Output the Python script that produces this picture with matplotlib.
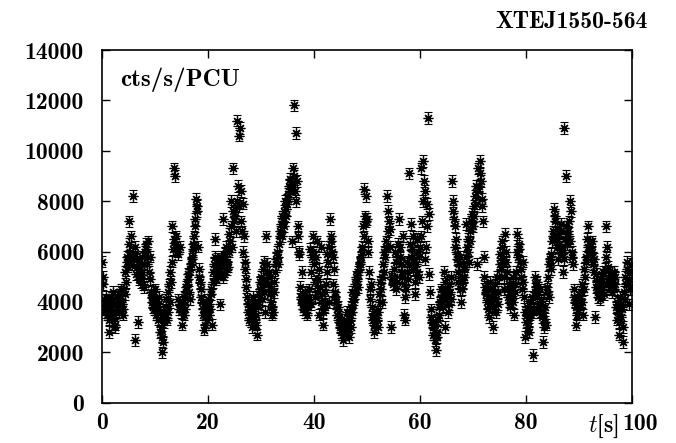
import numpy as np
import matplotlib
matplotlib.use("Agg")
import matplotlib.pyplot as plt

# count rate, units of 100 cts/s/PCU.
# rate_a: samples at t = 0, 0.25, 0.5, ...   rate_b: samples at t = 0.125, 0.375, ...
rate_a = [
    56, 47, 38, 42, 35, 28, 40, 37, 44, 34, 30, 38, 41, 36, 45, 39,
    37, 43, 48, 56, 72, 60, 66, 82, 58, 25, 54, 32, 56, 50, 52, 47,
    46, 61, 55, 64, 58, 44, 40, 37, 45, 35, 39, 42, 28, 20, 24, 34,
    38, 33, 44, 40, 48, 70, 93, 90, 66, 59, 37, 62, 31, 40, 35, 44,
    47, 51, 41, 55, 58, 63, 73, 81, 78, 53, 48, 42, 37, 29, 39, 33,
    41, 35, 45, 31, 52, 65, 49, 57, 55, 39, 58, 73, 51, 59, 56, 54,
    67, 80, 62, 93,
    77, 68, 112, 106, 109, 84, 79, 66, 53, 46, 39, 33, 36, 30, 42, 34,
    31, 27, 38, 45, 50, 41, 56, 36, 66, 47, 52, 43, 35, 36, 48, 57,
    60, 55, 66, 71, 74, 70, 80, 77, 83, 86, 89, 64, 93, 118, 107, 88,
    66, 59, 41, 52, 37, 44, 40, 35, 45, 61, 39, 66, 55, 42, 64, 49,
    35, 62, 43, 31, 38, 47, 59, 40, 73, 64, 58, 53, 44, 35, 38, 34,
    28, 31, 25, 27, 30, 36, 26, 33, 38, 44, 41, 47, 50, 46, 53, 56,
    62, 70, 85, 82,
    73, 64, 41, 47, 34, 28, 32, 36, 30, 43, 48, 40, 55, 60, 64, 82,
    76, 69, 30, 49, 53, 60, 45, 63, 73, 58, 50, 66, 35, 33, 56, 49,
    91, 71, 61, 66, 43, 55, 65, 50, 62, 93, 96, 88, 57, 79, 113, 51,
    37, 32, 27, 29, 21, 26, 35, 40, 45, 38, 52, 30, 43, 36, 47, 41,
    88, 80, 70, 65, 57, 48, 58, 40, 45, 50, 54, 71, 60, 56, 64, 75,
    70, 78, 86, 55, 93, 96, 88, 78, 58, 46, 43, 37, 34, 48, 41, 30,
    44, 36, 50, 39,
    59, 53, 64, 45, 67, 60, 42, 47, 38, 43, 50, 35, 47, 67, 58, 61,
    53, 45, 56, 26, 32, 38, 28, 35, 40, 19, 37, 50, 48, 44, 36, 41,
    34, 24, 32, 31, 46, 42, 57, 53, 68, 77, 74, 62, 57, 66, 71, 59,
    52, 109, 90, 63, 67, 80, 76, 60, 45, 40, 31, 36, 43, 39, 47, 35,
    53, 56, 65, 70, 62, 59, 64, 57, 34, 51, 44, 48, 41, 46, 52, 43,
    70, 62, 49, 45, 50, 44, 52, 47, 38, 33, 27, 42, 34, 24, 44, 50,
    56, 47, 39, 52,
]
rate_b = [
    50, 41, 36, 39, 37, 33, 42, 35, 39, 31, 36, 42, 38, 44, 40, 35,
    45, 52, 58, 54, 63, 57, 55, 59, 62, 51, 57, 49, 53, 48, 58, 55,
    60, 63, 58, 52, 49, 42, 38, 44, 40, 37, 33, 36, 30, 26, 32, 37,
    41, 36, 47, 52, 56, 61, 65, 63, 60, 41, 39, 36, 38, 42, 37, 46,
    49, 44, 53, 57, 61, 66, 70, 76, 62, 50, 45, 40, 35, 31, 36, 38,
    39, 37, 43, 48, 55, 58, 53, 50, 52, 56, 54, 50, 57, 62, 53, 60,
    64, 70, 76, 72,
    74, 80, 86, 78, 72, 68, 60, 56, 49, 42, 36, 38, 33, 37, 40, 32,
    35, 40, 43, 48, 46, 53, 44, 49, 55, 50, 45, 40, 38, 44, 52, 55,
    58, 63, 68, 66, 72, 76, 74, 79, 81, 84, 87, 85, 90, 84, 80, 70,
    60, 46, 42, 39, 40, 36, 42, 38, 42, 52, 58, 60, 48, 58, 44, 53,
    46, 40, 36, 39, 44, 52, 56, 62, 66, 60, 47, 42, 40, 37, 32, 30,
    33, 29, 27, 31, 28, 32, 35, 30, 36, 40, 43, 45, 49, 52, 55, 58,
    60, 66, 74, 72,
    60, 52, 45, 38, 33, 31, 35, 33, 36, 40, 45, 50, 52, 58, 62, 68,
    72, 62, 50, 47, 50, 56, 48, 58, 62, 55, 52, 47, 42, 45, 52, 55,
    63, 58, 53, 57, 48, 52, 60, 58, 66, 72, 80, 84, 62, 70, 75, 44,
    34, 30, 31, 25, 28, 33, 38, 42, 40, 44, 48, 41, 45, 39, 44, 50,
    76, 73, 62, 59, 52, 55, 45, 50, 48, 53, 58, 62, 65, 68, 72, 70,
    74, 82, 79, 84, 86, 91, 81, 72, 50, 44, 40, 45, 38, 42, 45, 37,
    47, 41, 44, 50,
    55, 62, 57, 50, 56, 52, 45, 40, 42, 46, 40, 44, 52, 60, 63, 56,
    50, 48, 42, 36, 35, 30, 34, 37, 42, 36, 44, 46, 42, 38, 45, 39,
    36, 30, 38, 44, 50, 55, 59, 64, 66, 72, 65, 69, 63, 68, 62, 60,
    57, 65, 70, 68, 72, 64, 58, 55, 42, 38, 35, 41, 38, 44, 40, 45,
    50, 58, 62, 60, 64, 60, 55, 52, 46, 48, 42, 46, 49, 44, 47, 53,
    58, 54, 47, 49, 52, 48, 45, 50, 40, 36, 32, 39, 37, 30, 41, 47,
    53, 49, 45, 55,
]
rate_err = 230  # cts/s/PCU, roughly constant bar half-height

x_ticks = [0, 20, 40, 60, 80, 100]
y_ticks = [0, 2000, 4000, 6000, 8000, 10000, 12000, 14000]

t = np.concatenate([np.arange(len(rate_a)) * 0.25,
                    np.arange(len(rate_b)) * 0.25 + 0.125])
rate = 100.0 * np.array(rate_a + rate_b)

plt.rcParams["font.family"] = "cmb10"
plt.rcParams["mathtext.fontset"] = "cm"
plt.rcParams["axes.unicode_minus"] = False

fig = plt.figure(figsize=(6.76, 4.43), dpi=100)
ax = fig.add_axes([0.151, 0.091, 0.784, 0.796])

ax.errorbar(t, rate, yerr=rate_err, fmt="none", ecolor="black",
            elinewidth=0.8, capsize=3, capthick=0.8)
ax.plot(t, rate, linestyle="none", marker=(8, 2, 0), markersize=7,
        markeredgewidth=0.9, color="black")

ax.set_xlim(0, 100)
ax.set_ylim(0, 14000)
ax.set_xticks(x_ticks)
ax.set_yticks(y_ticks)
ax.set_xticklabels([str(v) for v in x_ticks[:-1]] + [""])
ax.tick_params(direction="in", length=6, width=1, top=True, right=True,
               labelsize=17)
ax.tick_params(axis="y", pad=13)
ax.tick_params(axis="x", pad=7)
for s in ax.spines.values():
    s.set_linewidth(1.2)

ax.text(1.015, -0.029, "100", transform=ax.transAxes, fontsize=17,
        ha="center", va="top")
ax.text(0.975, -0.029, r"$t$[s]", transform=ax.transAxes, fontsize=17,
        ha="right", va="top")
ax.text(0.034, 0.898, "cts/s/PCU", transform=ax.transAxes, fontsize=18,
        ha="left", va="baseline")
fig.text(0.9586, 0.937, "XTEJ1550-564", fontsize=17, ha="right",
         va="baseline")

fig.savefig("out.png", dpi=100)
